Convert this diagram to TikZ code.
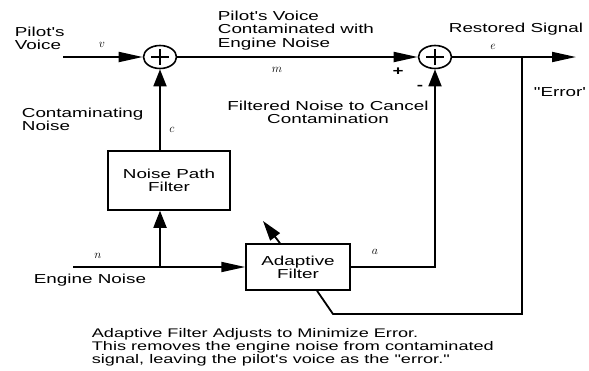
\documentclass[tikz,border=0pt]{standalone}
\usepackage{fontspec}
\setmainfont{Liberation Sans}[FakeStretch=1.45, Ligatures=TeXOff]
\usetikzlibrary{arrows.meta,shapes.geometric}

\begin{document}
\begin{tikzpicture}[x=1pt, y=-1pt, line width=1.8pt, >={Triangle[length=24pt,width=10pt]},
  up/.style={-{Triangle[length=17pt,width=13pt]}},
  sum/.style={ellipse, draw, line width=1.6pt, minimum width=33pt, minimum height=23pt, inner sep=0pt,
    path picture={\draw[line width=1.6pt] ([xshift=-9pt]path picture bounding box.center) -- ([xshift=9pt]path picture bounding box.center)
      ([yshift=-8pt]path picture bounding box.center) -- ([yshift=8pt]path picture bounding box.center);}},
  blk/.style={rectangle, draw, line width=1.5pt, align=center, font=\fontsize{13}{13}\selectfont},
  txt/.style={inner sep=0pt, align=left, anchor=north west, font=\fontsize{13}{13.5}\selectfont},
  var/.style={inner sep=0pt, font=\fontsize{12}{12}\selectfont},
  sgn/.style={inner sep=0pt, font=\bfseries\fontsize{13}{13}\selectfont}]
  \useasboundingbox (0,0) rectangle (589,370);

  \node[sum] (s1) at (160,57) {};
  \node[sum] (s2) at (435,57) {};
  \node[blk, minimum width=122pt, minimum height=59pt] (npf) at (169,180.5) {Noise Path\\Filter};
  \node[blk, minimum width=104pt, minimum height=46pt] (af) at (298,267) {Adaptive\\Filter};

  \coordinate (vin) at (63,57);
  \coordinate (vout) at (576,57);
  \coordinate (tap) at (522,57);
  \coordinate (fb1) at (522,314);
  \coordinate (fb2) at (333,314);
  \coordinate (nin) at (73,267);
  \coordinate (jn) at (160,267);
  \coordinate (adj) at (263,221);

  \draw[->] (vin) -- (s1);
  \draw[->] (s1) -- (s2);
  \draw[->] (s2) -- (vout);
  \draw[up] (s1 |- npf.north) -- (s1);
  \draw (nin) -- (jn);
  \draw[up] (jn) -- (npf.south -| jn);
  \draw[->] (jn) -- (af);
  \draw[up] (af.east) -| (s2);
  \draw (tap) -- (fb1) -- (fb2) -- ([xshift=19pt]af.south);
  \draw[-{Triangle[length=20pt,width=12pt]}] ([xshift=-18pt]af.north) -- (adj);

  \node[txt] (pv) at (14,26) {Pilot's\\Voice};
  \node[txt] (pvc) at (217,10) {Pilot's Voice\\Contaminated with\\Engine Noise};
  \node[txt] (rs) at (448,22) {Restored Signal};
  \node[txt, align=center, anchor=north] (fn) at (328,100) {Filtered Noise to Cancel\\Contamination};
  \node[txt] (cn) at (21,107) {Contaminating\\Noise};
  \node[txt] (en) at (33,273) {Engine Noise};
  \node[txt] (err) at (533,87) {"Error'};
  \node[txt, font=\fontsize{12.5}{10.5}\selectfont] (note) at (91,328)
    {Adaptive Filter Adjusts to Minimize Error.\\This removes the engine noise from contaminated\\signal, leaving the pilot's voice as the "error."};

  \node[var] (lv) at (102,45) {$v$};
  \node[var] (lm) at (277,70) {$m$};
  \node[var] (le) at (493,47) {$e$};
  \node[var] (lc) at (172,130) {$c$};
  \node[var] (ln) at (98,256) {$n$};
  \node[var] (la) at (375,252) {$a$};
  \node[sgn] (pl) at (398,72) {+};
  \node[sgn] (mi) at (420,87) {-};
\end{tikzpicture}
\end{document}
